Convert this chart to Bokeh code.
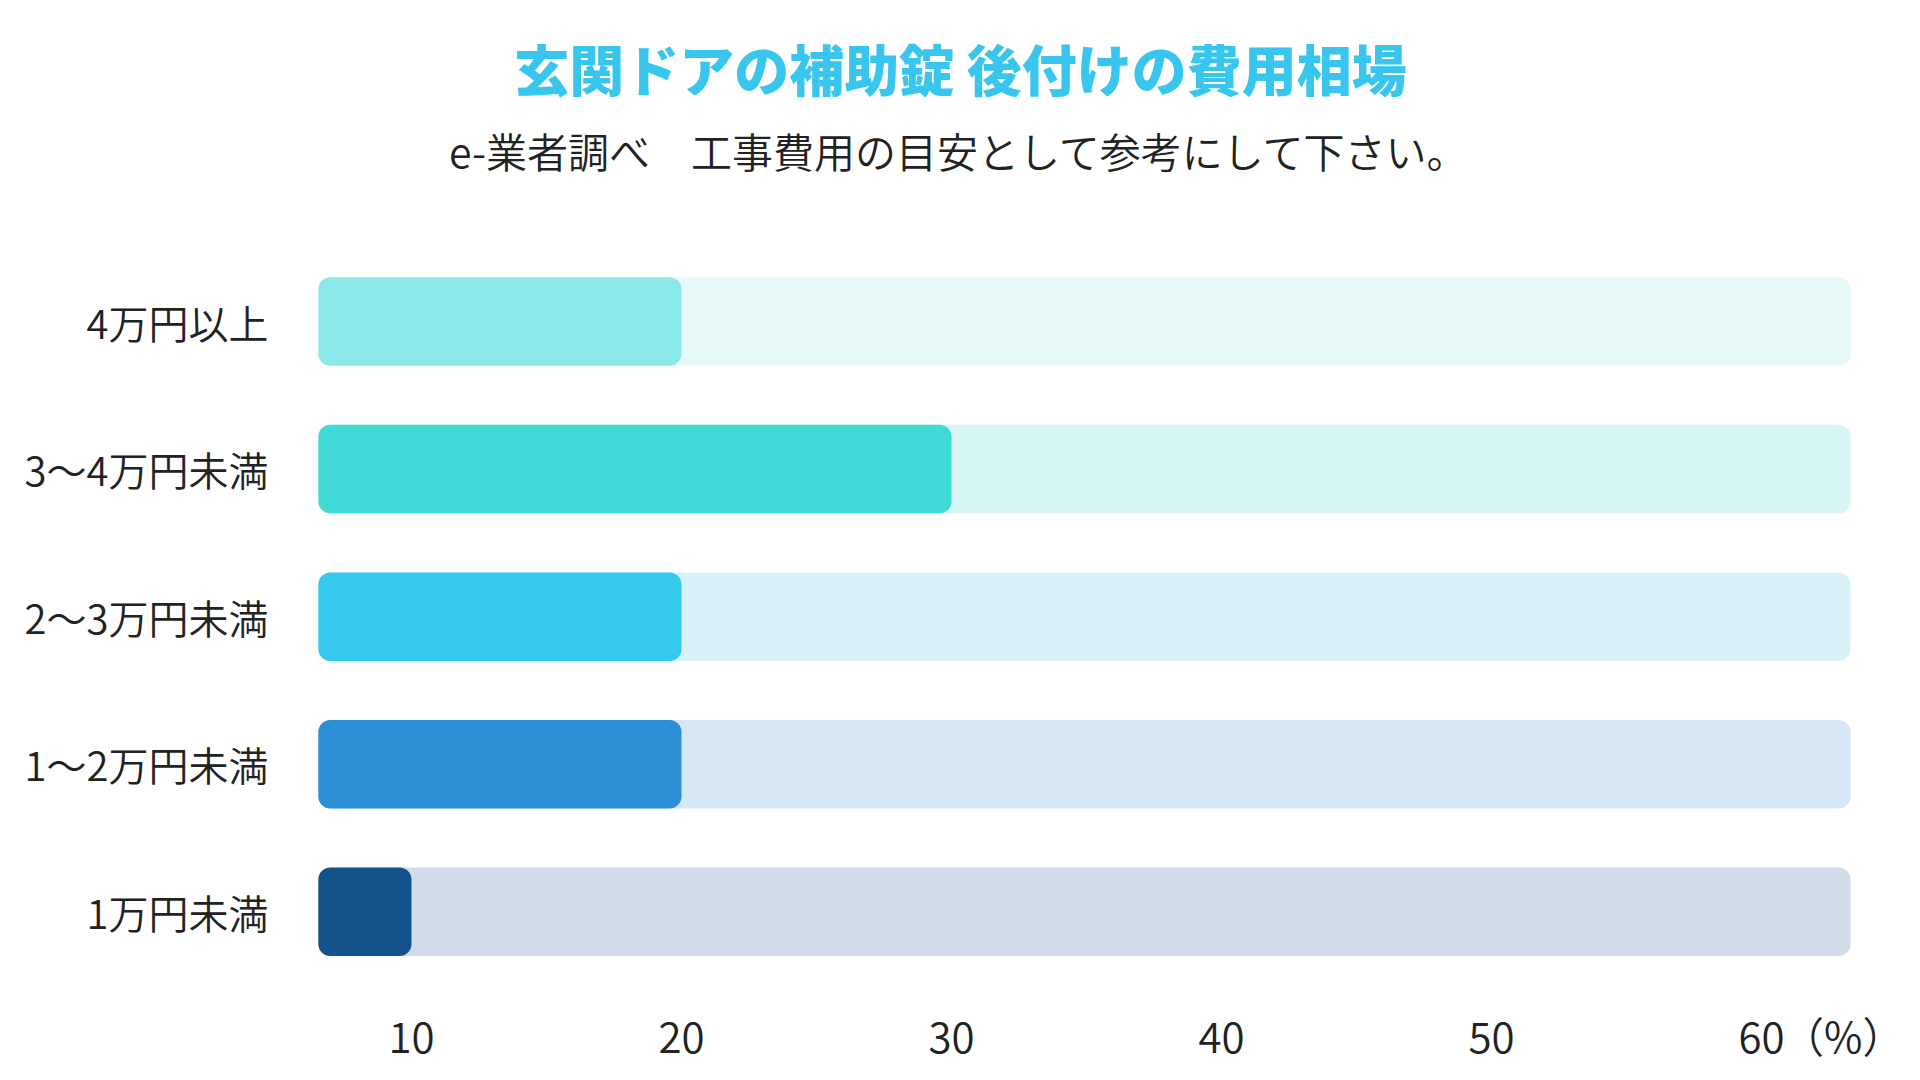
from bokeh.plotting import figure
from bokeh.models import Range1d, FixedTicker, Label, ColumnDataSource
from bokeh.embed import file_html
from bokeh.resources import INLINE

# ---- data ----
categories = ["1万円未満", "1～2万円未満", "2～3万円未満", "3～4万円未満", "4万円以上"]
values = [10, 20, 20, 30, 20]
bar_colors = ["#14538A", "#2B90D6", "#36C9EE", "#3FDAD6", "#8AE9E8"]
track_colors = ["#D0DCE8", "#D6E8F6", "#D8F2FA", "#D8F6F5", "#E6F9F8"]
ticks = [10, 20, 30, 40, 50, 60]
unit_tick = 64.7
unit_text = "（%）"
bar_base = 6.55
track_end = 63.3
title_text = "玄関ドアの補助錠 後付けの費用相場"
subtitle_text = "e-業者調べ　工事費用の目安として参考にして下さい。"

FONT = "'Noto Sans CJK JP DemiLight', 'Noto Sans CJK JP'"
TITLE_FONT = "'Noto Sans CJK JP Black', 'Noto Sans CJK JP'"
TEXT_COLOR = "#222222"

pos = list(range(len(categories)))
src = ColumnDataSource(dict(
    y=pos,
    val=values,
    base=[bar_base] * len(categories),
    end=[track_end] * len(categories),
    color=bar_colors,
    track=track_colors,
))

# frame spans from the canvas top down to the x-axis; rows are 147.5 px apart
p = figure(
    width=1904, height=1072,
    x_range=Range1d(5.815, 65.296),
    y_range=Range1d(-0.5, 6.176),
    output_backend="svg", toolbar_location=None,
    min_border_left=298, min_border_right=0,
    min_border_top=0, min_border_bottom=87,
    background_fill_color="white", border_fill_color="white",
)
p.outline_line_color = None
p.grid.visible = False

p.hbar(y="y", left="base", right="end", height=0.6, fill_color="track",
       line_color=None, border_radius=12, source=src)
p.hbar(y="y", left="base", right="val", height=0.6, fill_color="color",
       line_color=None, border_radius=12, source=src)

xa = p.xaxis[0]
xa.ticker = FixedTicker(ticks=ticks + [unit_tick])
xa.major_label_overrides = {unit_tick: unit_text}
xa.axis_line_color = None
xa.major_tick_line_color = None
xa.minor_tick_line_color = None
xa.major_label_text_font = FONT
xa.major_label_text_font_size = "42px"
xa.major_label_text_color = TEXT_COLOR
xa.major_label_standoff = 12

ya = p.yaxis[0]
ya.ticker = FixedTicker(ticks=pos)
ya.major_label_overrides = {i: c for i, c in zip(pos, categories)}
ya.axis_line_color = None
ya.major_tick_line_color = None
ya.minor_tick_line_color = None
ya.major_label_text_font = FONT
ya.major_label_text_font_size = "40px"
ya.major_label_text_color = TEXT_COLOR
ya.major_label_standoff = 24

# title and subtitle, positioned in screen px from the frame's bottom-left corner
p.add_layout(Label(x=662, y=919, x_units="screen", y_units="screen", text=title_text,
                   text_font=TITLE_FONT, text_font_style="bold", text_font_size="55px",
                   text_color="#38C6EE", text_align="center", text_baseline="middle"))
p.add_layout(Label(x=661, y=836, x_units="screen", y_units="screen", text=subtitle_text,
                   text_font=FONT, text_font_size="41px",
                   text_color=TEXT_COLOR, text_align="center", text_baseline="middle"))

open("out.html", "w").write(file_html(p, INLINE))
